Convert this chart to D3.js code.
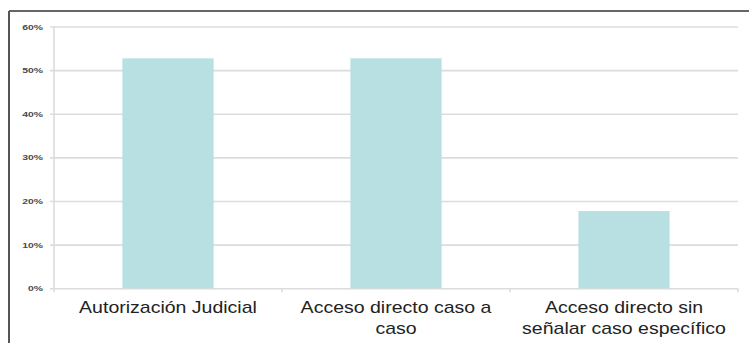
<!DOCTYPE html>
<html>
<head>
<meta charset="utf-8">
<script src="https://cdn.jsdelivr.net/npm/d3@7/dist/d3.min.js"></script>
<style>
  html, body { margin: 0; padding: 0; background: #fff; }
  svg { display: block; }
</style>
</head>
<body>
<svg id="chart" width="749" height="343"></svg>
<script>
// Categories and their shares
const categories = [
  ["Autorización Judicial"],
  ["Acceso directo caso a", "caso"],
  ["Acceso directo sin", "señalar caso específico"]
];
const values = [0.527, 0.527, 0.177];
const yTicks = [0, 0.1, 0.2, 0.3, 0.4, 0.5, 0.6];

const svg = d3.select("#chart");
const margin = { left: 54, right: 11, top: 26.5, bottom: 55 };
const W = 749, H = 343;
const FONT = "Liberation Sans, Arial, sans-serif";

// Frame lines (top and left edges)
svg.append("line").attr("x1", 9).attr("x2", W).attr("y1", 11).attr("y2", 11)
  .attr("stroke", "#666").attr("stroke-width", 2);
svg.append("line").attr("x1", 9).attr("x2", 9).attr("y1", 11).attr("y2", H)
  .attr("stroke", "#555").attr("stroke-width", 2);

const x = d3.scaleBand()
  .domain(d3.range(categories.length))
  .range([margin.left, W - margin.right])
  .paddingInner(0.6)
  .paddingOuter(0.3);

const y = d3.scaleLinear()
  .domain([0, 0.6])
  .range([288.3, margin.top]);

// Horizontal gridlines
const yAxis = d3.axisLeft(y)
  .tickValues(yTicks)
  .tickFormat("")
  .tickSize(-(W - margin.right - margin.left + 4));

const gy = svg.append("g")
  .attr("transform", `translate(${margin.left - 4},0)`)
  .call(yAxis);
gy.select(".domain").remove();
gy.selectAll(".tick line")
  .attr("stroke", "#dcdcdc").attr("stroke-width", 1.6);

// Tick labels, set in a wide face
const fmt = d3.format(".0%");
svg.append("g").selectAll("text")
  .data(yTicks)
  .join("text")
  .attr("transform", d => `translate(43,${y(d) + 3}) scale(1.3,1)`)
  .attr("text-anchor", "end")
  .attr("fill", "#4a4a4a")
  .attr("font-family", FONT)
  .attr("font-size", 8)
  .attr("font-weight", "bold")
  .text(fmt);

// Vertical value axis line
svg.append("line")
  .attr("x1", margin.left).attr("x2", margin.left)
  .attr("y1", y(0.6)).attr("y2", y(0) + 4)
  .attr("stroke", "#dcdcdc").attr("stroke-width", 1.6);

// Bars
svg.append("g").selectAll("rect")
  .data(values)
  .join("rect")
  .attr("x", (d, i) => x(i))
  .attr("width", x.bandwidth())
  .attr("y", d => y(d))
  .attr("height", d => y(0) - y(d))
  .attr("fill", "#b8dfe1");

// Category boundary ticks
const step = x.step();
const bounds = d3.range(categories.length + 1).map(i => margin.left + i * step);
svg.append("g").selectAll("line")
  .data(bounds.slice(1))
  .join("line")
  .attr("x1", d => d).attr("x2", d => d)
  .attr("y1", y(0)).attr("y2", y(0) + 4)
  .attr("stroke", "#dcdcdc").attr("stroke-width", 1.6);

// Category labels
const lab = svg.append("g").selectAll("text")
  .data(categories)
  .join("text")
  .attr("transform", (d, i) => `translate(${x(i) + x.bandwidth() / 2},313) scale(1.22,1)`)
  .attr("text-anchor", "middle")
  .attr("fill", "#222")
  .attr("font-family", FONT)
  .attr("font-size", 16);
lab.selectAll("tspan")
  .data(d => d)
  .join("tspan")
  .attr("x", 0)
  .attr("dy", (d, i) => i === 0 ? 0 : 21)
  .text(d => d);
</script>
</body>
</html>
